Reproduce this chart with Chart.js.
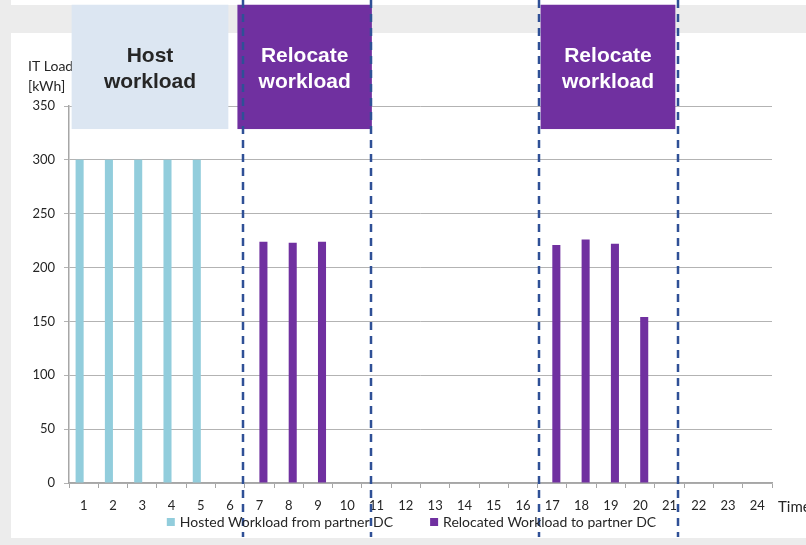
<!DOCTYPE html>
<html>
<head>
<meta charset="utf-8">
<script src="https://cdn.jsdelivr.net/npm/chart.js@4"></script>
<style>
  body { margin: 0; background: #ececec; width: 806px; height: 545px; position: relative; overflow: hidden; }
  .strip { position: absolute; left: 11px; top: 0; width: 795px; height: 5px; background: #fff; }
  .panel { position: absolute; left: 11px; top: 33px; width: 795px; height: 505px; background: #fff; }
  #chart { position: absolute; left: 0; top: 0; }
</style>
</head>
<body>
<div class="strip"></div>
<div class="panel"></div>
<canvas id="chart" width="806" height="545"></canvas>
<script>
var hours = ['1','2','3','4','5','6','7','8','9','10','11','12','13','14','15','16','17','18','19','20','21','22','23','24'];
var hosted = [300, 300, 300, 300, 300, null, null, null, null, null, null, null, null, null, null, null, null, null, null, null, null, null, null, null];
var relocated = [null, null, null, null, null, null, 224, 223, 224, null, null, null, null, null, null, null, 221, 226, 222, 154, null, null, null, null];
var seriesNames = ['Hosted Workload from partner DC', 'Relocated Workload to partner DC'];
var yTicks = [0, 50, 100, 150, 200, 250, 300, 350];
var yTitle = ['IT Load', '[kWh]'];
var xTitle = 'Time';

// phase boxes, x in category index units, y in kWh
var phaseNames = [['Host', 'workload'], ['Relocate', 'workload'], ['Relocate', 'workload']];
var phaseFrom = [-0.41, 5.25, 15.6];
var phaseTo = [4.94, 9.84, 20.2];
var phaseTop = 444;
var phaseBottom = 328.6;
var phaseColors = ['#dce6f2', '#7030a0', '#7030a0'];
var phaseText = ['#262626', '#ffffff', '#ffffff'];
// dashed dividers, category index units
var dividers = [5.44, 9.81, 15.56, 20.28];

var colors = ['#92cddc', '#7030a0'];
var font = 'Lato, "Liberation Sans", sans-serif';

var overlay = {
  id: 'overlay',
  afterDraw: function(chart) {
    var ctx = chart.ctx;
    var xs = chart.scales.x;
    var ys = chart.scales.y;
    var area = chart.chartArea;
    ctx.save();

    // axis titles
    ctx.fillStyle = '#262626';
    ctx.font = '14px ' + font;
    ctx.textAlign = 'left';
    ctx.textBaseline = 'middle';
    ctx.fillText(yTitle[0], area.left - 41, area.top - 40);
    ctx.fillText(yTitle[1], area.left - 41, area.top - 20);
    ctx.font = '15px ' + font;
    ctx.fillText(xTitle, area.right + 6, area.bottom + 24);

    // boxes
    for (var i = 0; i < phaseNames.length; i++) {
      var l = xs.getPixelForValue(phaseFrom[i]);
      var r = xs.getPixelForValue(phaseTo[i]);
      var t = ys.getPixelForValue(phaseTop);
      var b = ys.getPixelForValue(phaseBottom);
      ctx.fillStyle = phaseColors[i];
      ctx.fillRect(l, t, r - l, b - t);
      ctx.fillStyle = phaseText[i];
      ctx.font = 'bold 21px "Liberation Sans", Arial, sans-serif';
      ctx.textAlign = 'center';
      var cx = (l + r) / 2, cy = (t + b) / 2;
      ctx.fillText(phaseNames[i][0], cx, cy - 11);
      ctx.fillText(phaseNames[i][1], cx, cy + 15);
    }

    // dashed lines
    ctx.strokeStyle = '#2f5096';
    ctx.lineWidth = 2.5;
    ctx.setLineDash([8, 6]);
    for (var j = 0; j < dividers.length; j++) {
      var dx = Math.round(xs.getPixelForValue(dividers[j]));
      ctx.beginPath();
      ctx.moveTo(dx, 0);
      ctx.lineTo(dx, chart.height - 8);
      ctx.stroke();
    }
    ctx.setLineDash([]);

    // legend
    ctx.font = '14px ' + font;
    ctx.textAlign = 'left';
    var gap = 37, box = 8, boxGap = 5;
    var total = 0;
    var sets = chart.data.datasets;
    for (var k = 0; k < sets.length; k++) {
      total += box + boxGap + ctx.measureText(sets[k].label).width;
      if (k > 0) total += gap;
    }
    var lx = (area.left + area.right) / 2 - 9 - total / 2;
    var ly = area.bottom + 39;
    for (var k = 0; k < sets.length; k++) {
      ctx.fillStyle = sets[k].backgroundColor;
      ctx.fillRect(lx, ly - 4, box, box);
      lx += box + boxGap;
      ctx.fillStyle = '#262626';
      ctx.fillText(sets[k].label, lx, ly);
      lx += ctx.measureText(sets[k].label).width + gap;
    }
    ctx.restore();
  }
};

var chart = new Chart(document.getElementById('chart'), {
  type: 'bar',
  data: {
    labels: hours,
    datasets: [{
      label: seriesNames[0],
      data: hosted,
      backgroundColor: colors[0]
    }, {
      label: seriesNames[1],
      data: relocated,
      backgroundColor: colors[1]
    }]
  },
  options: {
    responsive: false,
    animation: false,
    datasets: {
      bar: { categoryPercentage: 0.55, barPercentage: 1 }
    },
    layout: {
      padding: { left: 0, right: 34, top: 106, bottom: 32 }
    },
    plugins: {
      legend: { display: false },
      tooltip: { enabled: false }
    },
    scales: {
      x: {
        offset: true,
        grid: { display: true, drawOnChartArea: false, drawTicks: true, tickLength: 5, color: '#a6a6a6', offset: true },
        border: { color: '#a6a6a6', width: 1.5 },
        ticks: { color: '#262626', font: { family: font, size: 13 }, padding: 10, maxRotation: 0, autoSkip: false },
        afterFit: function(scale) { scale.height = 30; }
      },
      y: {
        min: 0,
        max: 350,
        afterBuildTicks: function(scale) {
          scale.ticks = yTicks.map(function(v) { return { value: v }; });
        },
        grid: { color: '#b3b3b3', tickLength: 5 },
        border: { color: '#a6a6a6', width: 1.5 },
        ticks: { color: '#262626', font: { family: font, size: 13 }, padding: 9 },
        afterFit: function(scale) { scale.width = 69; }
      }
    }
  },
  plugins: [overlay]
});
</script>
</body>
</html>
